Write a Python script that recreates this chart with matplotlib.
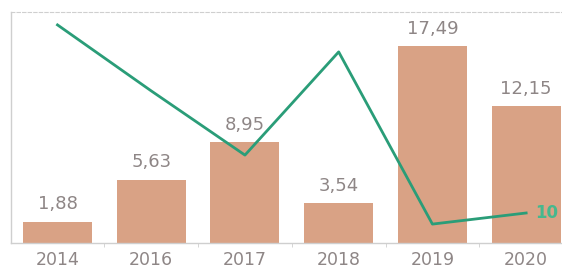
import matplotlib
matplotlib.use("Agg")
import matplotlib.pyplot as plt
import numpy as np

# data
years = ["2014", "2016", "2017", "2018", "2019", "2020"]
bar_values = [1.88, 5.63, 8.95, 3.54, 17.49, 12.15]
bar_labels = ["1,88", "5,63", "8,95", "3,54", "17,49", "12,15"]
line_values = [72.7, 50.7, 29.3, 63.7, 6.3, 10.0]
line_end_label = "10"

BAR_COLOR = "#d9a285"
LINE_COLOR = "#2a9d78"
TEXT_GRAY = "#8e8686"
AXIS_GRAY = "#cfcfcf"

fig = plt.figure(figsize=(5.62, 2.69), dpi=100)
ax = fig.add_axes([0.0189, 0.0967, 1.0007, 0.8587])
x = np.arange(len(years))

ax.bar(x, bar_values, width=0.736, color=BAR_COLOR, zorder=2)
for xi, v, lab in zip(x, bar_values, bar_labels):
    ax.text(xi, v + 0.75, lab, ha="center", va="bottom", fontsize=13,
            color=TEXT_GRAY, zorder=1)

ax.set_xlim(-0.5, len(years) - 0.5)
ax.set_ylim(0, 20.51)
ax.set_yticks([])
ax.set_xticks(x)
ax.set_xticklabels(years, fontsize=12.5, color=TEXT_GRAY)
ax.tick_params(axis="x", length=0, pad=6)
ax.set_xticks(x[:-1] + 0.5, minor=True)
ax.tick_params(axis="x", which="minor", length=3, color=AXIS_GRAY)

for side in ("left", "bottom"):
    ax.spines[side].set_color(AXIS_GRAY)
    ax.spines[side].set_linewidth(1)
ax.spines["right"].set_visible(False)
ax.spines["top"].set_color(AXIS_GRAY)
ax.spines["top"].set_linestyle((0, (3, 2)))
ax.spines["top"].set_linewidth(0.8)

ax2 = ax.twinx()
ax2.set_ylim(0, 77)
ax2.plot(x, line_values, color=LINE_COLOR, linewidth=2.0, zorder=3)
ax2.annotate(line_end_label, (x[-1], line_values[-1]), xytext=(14.5, 0),
             textcoords="offset points", ha="center", va="center",
             fontsize=12, fontweight="bold", color="#45b88e")
ax2.set_yticks([])
for side in ax2.spines.values():
    side.set_visible(False)

fig.savefig("out.png", dpi=100)
